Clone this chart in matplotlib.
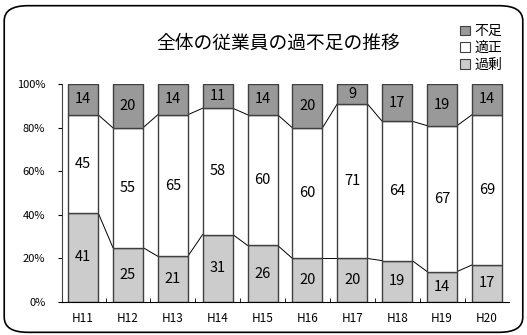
import numpy as np
import matplotlib.pyplot as plt
from matplotlib.patches import FancyBboxPatch, Patch

plt.rcParams['font.family'] = ['Noto Sans CJK JP', 'DejaVu Sans']

# data
years = ['H11', 'H12', 'H13', 'H14', 'H15', 'H16', 'H17', 'H18', 'H19', 'H20']
kajou = [41, 25, 21, 31, 26, 20, 20, 19, 14, 17]    # 過剰
tekisei = [45, 55, 65, 58, 60, 60, 71, 64, 67, 69]  # 適正
fusoku = [14, 20, 14, 11, 14, 20, 9, 17, 19, 14]    # 不足

series = [('過剰', kajou, '#cccccc'), ('適正', tekisei, '#ffffff'), ('不足', fusoku, '#999999')]

fig = plt.figure(figsize=(5.27, 3.35), dpi=100)
ax = fig.add_axes([0.1176, 0.0985, 0.849, 0.650])

x = np.arange(len(years))
w = 0.67
bottom = np.zeros(len(years))
for name, vals, col in series:
    vals = np.array(vals, dtype=float)
    ax.bar(x, vals, w, bottom=bottom, color=col, edgecolor='#404040', linewidth=1.0, label=name, zorder=2)
    for xi, b, v in zip(x, bottom, vals):
        ax.text(xi, b + v / 2, str(int(v)), ha='center', va='center', fontsize=10.5, color='black', zorder=3)
    bottom = bottom + vals
    # series lines between bars
    if name != '不足':
        for i in range(len(years) - 1):
            ax.plot([x[i] + w / 2, x[i + 1] - w / 2], [bottom[i], bottom[i + 1]],
                    color='black', linewidth=0.7, zorder=1)

ax.set_xlim(-0.47, 9.5)
ax.set_ylim(0, 100)
ax.set_yticks(range(0, 101, 20))
ax.set_yticklabels([f'{v}%' for v in range(0, 101, 20)], fontsize=8)
ax.set_xticks(x)
ax.set_xticklabels(years, fontsize=8.5)
ax.tick_params(axis='x', length=0, pad=7)
ax.set_xticks(np.arange(0.5, 9.5, 1), minor=True)
ax.tick_params(axis='x', which='minor', direction='in', length=3, color='black')
ax.tick_params(axis='y', length=3, direction='out', pad=9)
for s in ['top', 'right']:
    ax.spines[s].set_visible(False)
ax.spines['left'].set_color('#404040')
ax.spines['bottom'].set_color('black')

fig.text(0.528, 0.872, '全体の従業員の過不足の推移', ha='center', va='center', fontsize=13.5)

handles = [Patch(facecolor=c, edgecolor='#404040', linewidth=0.8, label=n) for n, v, c in series[::-1]]
fig.legend(handles=handles, loc='upper left', bbox_to_anchor=(0.85, 0.965), frameon=False,
           fontsize=10, handlelength=0.7, handleheight=0.7, handletextpad=0.3, labelspacing=0.2)

border = FancyBboxPatch((0.008, 0.008), 0.984, 0.975, boxstyle='round,pad=0,rounding_size=0.045',
                        transform=fig.transFigure, facecolor='none', edgecolor='black', linewidth=1.2)
fig.patches.append(border)

fig.savefig('out.png', dpi=100)
